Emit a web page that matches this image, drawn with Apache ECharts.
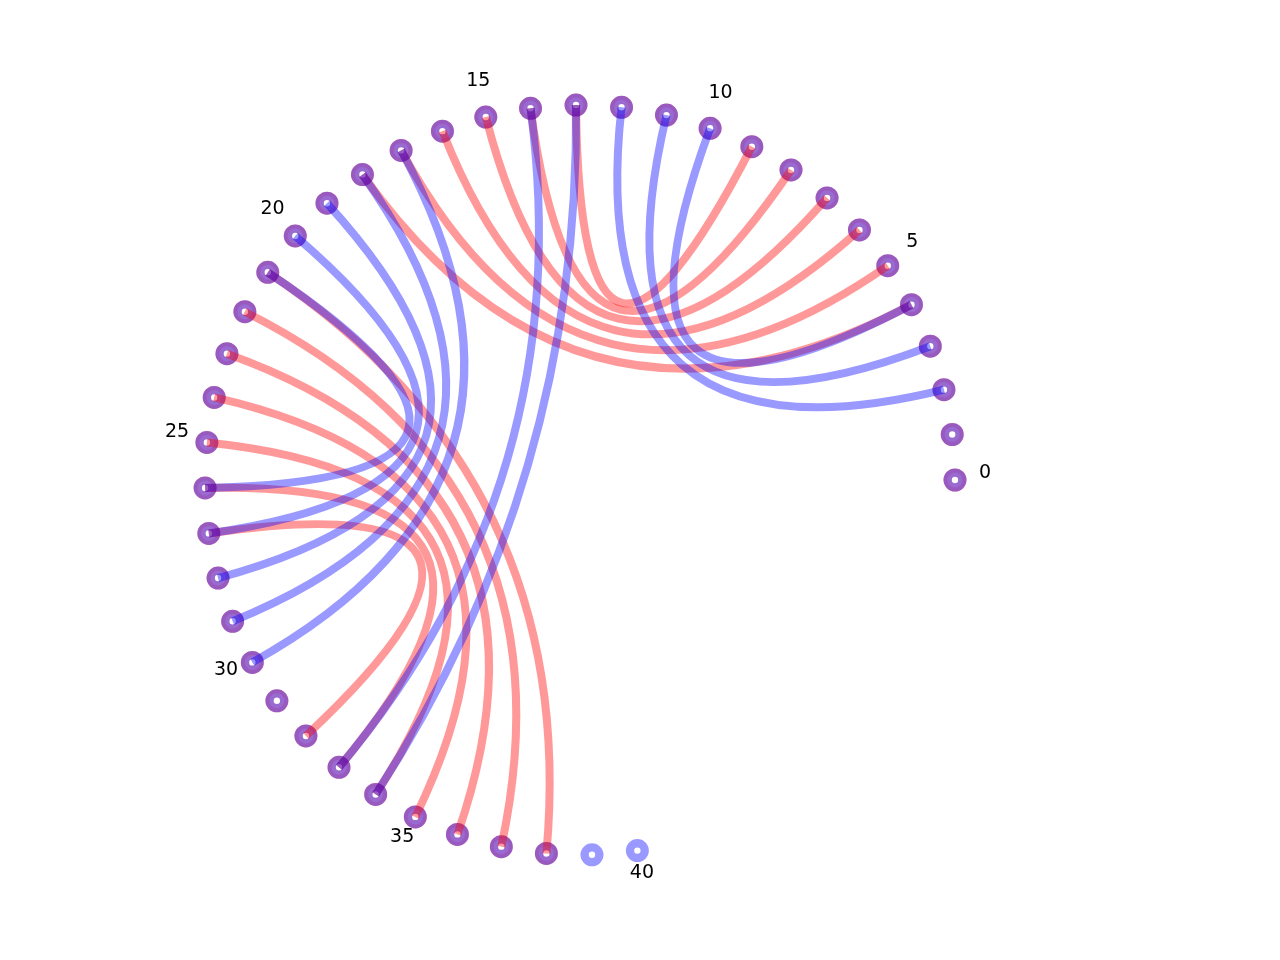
<!DOCTYPE html>
<html>
<head>
<meta charset="utf-8">
<title>arc diagram</title>
<script src="https://cdn.jsdelivr.net/npm/echarts@6/dist/echarts.min.js"></script>
<style>
html,body{margin:0;padding:0;background:#fff;}
#main{width:1280px;height:960px;}
</style>
</head>
<body>
<div id="main"></div>
<script>
// number of nodes in each structure
var redNodeCount = 39;
var blueNodeCount = 41;
// pairs of the red structure
var redPairs = [[4,18],[5,17],[6,16],[7,15],[8,14],[9,13],
	[21,38],[22,37],[23,36],[24,35],[25,34],[26,33],[27,32]];
// pairs of the blue structure
var bluePairs = [[2,12],[3,11],[4,10],[13,34],[14,33],
	[17,30],[18,29],[19,28],[20,27],[21,26]];
// labels round the circle
var tickLabels = [0,5,10,15,20,25,30,35,40];

var ANGLE_STEP = 6.97;   // degrees between two nodes
var LABEL_R = 1.08;

function nodePos(i, r){
	var a = i * ANGLE_STEP * Math.PI / 180;
	r = r || 1;
	return [r * Math.cos(a), r * Math.sin(a)];
}

function nodeList(n){
	var arr = [];
	for (var i = 0; i < n; i++){
		arr.push([i, 0]);
	}
	return arr;
}

//ring marker for every node
function ringRender(layers){
	return function(params, api){
		var p = api.coord(nodePos(api.value(0)));
		var children = [];
		for (var k = 0; k < layers.length; k++){
			children.push({
				type: 'ring',
				shape: {cx: p[0], cy: p[1], r: layers[k].r, r0: layers[k].r0},
				style: {fill: layers[k].fill, stroke: 'none'}
			});
		}
		return {type: 'group', children: children};
	};
}

//curved edge, control point in the centre of the circle
function edgeRender(color){
	return function(params, api){
		var p1 = api.coord(nodePos(api.value(0)));
		var p2 = api.coord(nodePos(api.value(1)));
		var c = api.coord([0, 0]);
		return {
			type: 'bezierCurve',
			shape: {x1: p1[0], y1: p1[1], x2: p2[0], y2: p2[1], cpx1: c[0], cpy1: c[1]},
			style: {stroke: color, lineWidth: 8, fill: 'none', lineCap: 'butt'}
		};
	};
}

function labelRender(params, api){
	var p = api.coord(nodePos(api.value(0), LABEL_R));
	return {
		type: 'text',
		x: p[0],
		y: p[1] - 7,
		style: {
			text: String(api.value(0)),
			fill: '#000',
			fontSize: 19,
			fontFamily: 'DejaVu Sans',
			align: 'center',
			verticalAlign: 'middle'
		}
	};
}

var option = {
	animation: false,
	backgroundColor: '#fff',
	grid: {left: 17.5, top: 30, width: 1125, height: 900},
	xAxis: {type: 'value', min: -1.5, max: 1.5, show: false},
	yAxis: {type: 'value', min: -1.2, max: 1.2, show: false},
	series: [
		{
			type: 'custom', name: 'red nodes',
			data: nodeList(redNodeCount),
			renderItem: ringRender([
				{r0: 3.2, r: 11.5, fill: 'rgba(255,0,0,0.3)'},
				{r0: 7.5, r: 11.5, fill: 'rgba(255,0,0,0.15)'}
			])
		},
		{
			type: 'custom', name: 'blue nodes',
			data: nodeList(blueNodeCount),
			renderItem: ringRender([
				{r0: 3.2, r: 11.5, fill: 'rgba(0,0,255,0.4)'}
			])
		},
		{
			type: 'custom', name: 'red pairs',
			data: redPairs,
			renderItem: edgeRender('rgba(255,0,0,0.4)')
		},
		{
			type: 'custom', name: 'blue pairs',
			data: bluePairs,
			renderItem: edgeRender('rgba(0,0,255,0.4)')
		},
		{
			type: 'custom', name: 'labels',
			data: tickLabels.map(function(v){ return [v, 0]; }),
			renderItem: labelRender
		}
	]
};

var chart = echarts.init(document.getElementById('main'));
chart.setOption(option);
window.onresize = function(){
	chart.resize();
};
</script>
</body>
</html>
